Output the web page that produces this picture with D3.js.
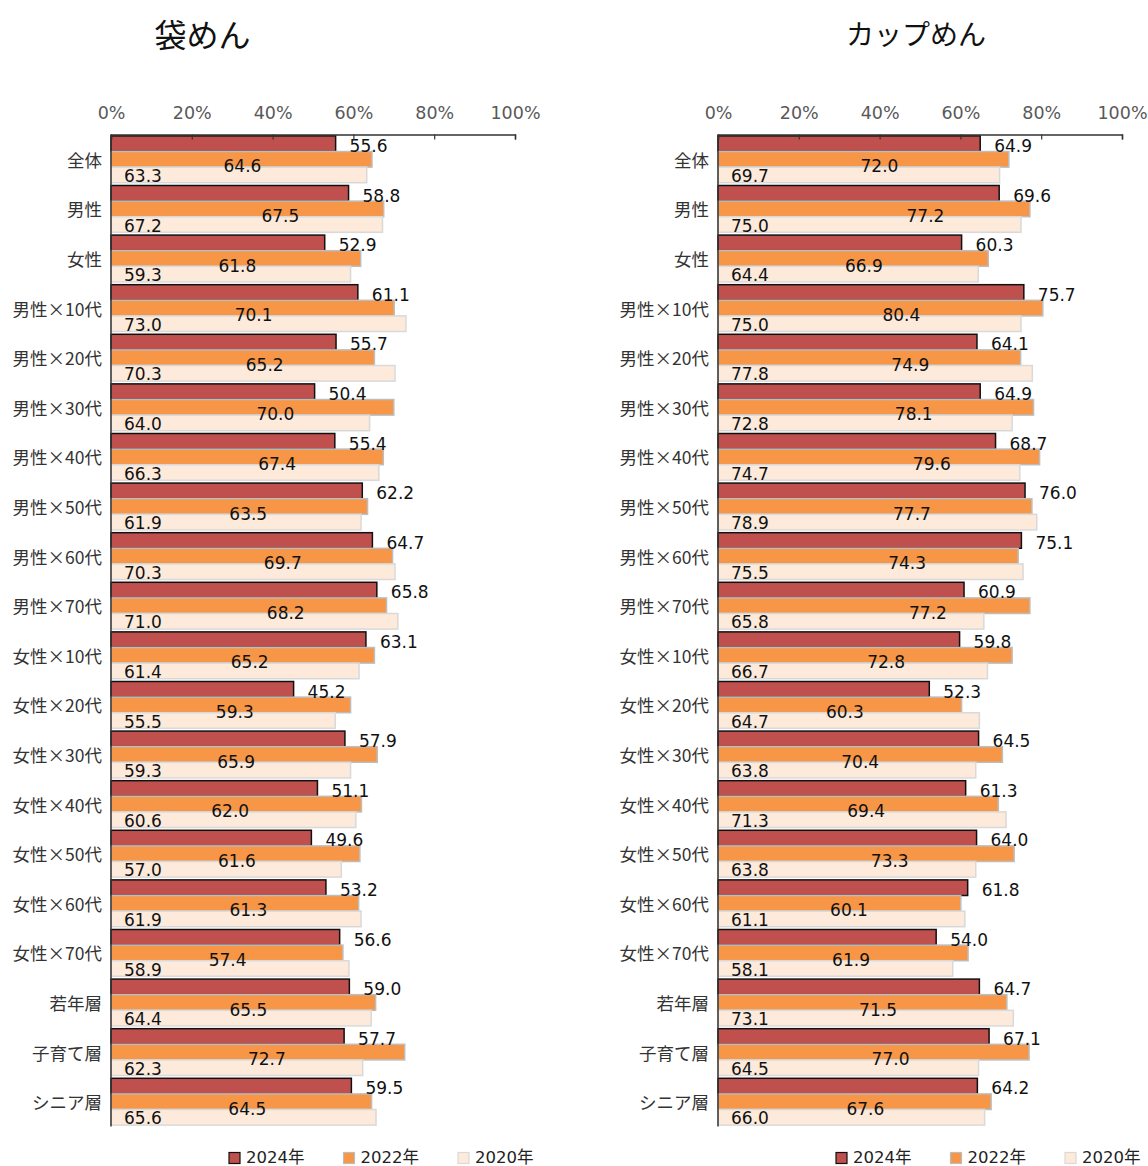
<!DOCTYPE html>
<html lang="ja">
<head>
<meta charset="utf-8">
<title>袋めん・カップめん</title>
<script src="https://cdn.jsdelivr.net/npm/d3@7"></script>
<style>
  body { margin: 0; background: #fff; }
  .cat { font-family: "Noto Sans CJK JP", sans-serif; font-size: 17.5px; fill: #333; }
  .tick text { font-family: "DejaVu Sans", sans-serif; font-size: 17.5px; fill: #595959; }
  .lbl { font-family: "DejaVu Sans", sans-serif; font-size: 17px; fill: #111; }
  .leg { font-family: "DejaVu Sans", "Noto Sans CJK JP", sans-serif; font-size: 16.5px; fill: #222; }
  .title { font-family: "Noto Sans CJK JP", sans-serif; fill: #111; }
</style>
</head>
<body>
<script>
const categories = ["全体", "男性", "女性",
  "男性×10代", "男性×20代", "男性×30代", "男性×40代", "男性×50代", "男性×60代", "男性×70代",
  "女性×10代", "女性×20代", "女性×30代", "女性×40代", "女性×50代", "女性×60代", "女性×70代",
  "若年層", "子育て層", "シニア層"];
const years = ["2024年", "2022年", "2020年"];
const ticks = [0, 20, 40, 60, 80, 100];

// 袋めん
const fukuro2024 = [55.6, 58.8, 52.9, 61.1, 55.7, 50.4, 55.4, 62.2, 64.7, 65.8, 63.1, 45.2, 57.9, 51.1, 49.6, 53.2, 56.6, 59.0, 57.7, 59.5];
const fukuro2022 = [64.6, 67.5, 61.8, 70.1, 65.2, 70.0, 67.4, 63.5, 69.7, 68.2, 65.2, 59.3, 65.9, 62.0, 61.6, 61.3, 57.4, 65.5, 72.7, 64.5];
const fukuro2020 = [63.3, 67.2, 59.3, 73.0, 70.3, 64.0, 66.3, 61.9, 70.3, 71.0, 61.4, 55.5, 59.3, 60.6, 57.0, 61.9, 58.9, 64.4, 62.3, 65.6];

// カップめん
const cup2024 = [64.9, 69.6, 60.3, 75.7, 64.1, 64.9, 68.7, 76.0, 75.1, 60.9, 59.8, 52.3, 64.5, 61.3, 64.0, 61.8, 54.0, 64.7, 67.1, 64.2];
const cup2022 = [72.0, 77.2, 66.9, 80.4, 74.9, 78.1, 79.6, 77.7, 74.3, 77.2, 72.8, 60.3, 70.4, 69.4, 73.3, 60.1, 61.9, 71.5, 77.0, 67.6];
const cup2020 = [69.7, 75.0, 64.4, 75.0, 77.8, 72.8, 74.7, 78.9, 75.5, 65.8, 66.7, 64.7, 63.8, 71.3, 63.8, 61.1, 58.1, 73.1, 64.5, 66.0];

// 2022 labels were dragged by hand in the original, px nudge from bar centre
const fukuroNudge = [1, 33, 1.5, 1, 22, 23, 30, 9, 31, 37, 7, 4, -8, -6, 1.5, 13.5, 0.7, 5, 9, 6];
const cupNudge = [16, 51.5, 10.7, 21, 41, 38, 53, 37, 39, 54, 21, 5, 0, 8, 23.7, 9.6, 8, 15.6, 17, 10.8];

const fills = ["#C0504D", "#F79646", "#FDEADA"];
const strokes = ["#111", "#BDBDBD", "#D9D9D9"];
// vertical nudge of data labels per series
const labelDy = [2.4, 7, 1];

const width = 1148, height = 1166;
const svg = d3.select("body").append("svg")
  .attr("width", width)
  .attr("height", height)
  .style("background", "#fff");

const panels = [
  { title: "袋めん", titleX: 202.5, titleSize: 32, left: 111, series: [fukuro2024, fukuro2022, fukuro2020], nudge: fukuroNudge, legendX: 229 },
  { title: "カップめん", titleX: 916, titleSize: 28, left: 718, series: [cup2024, cup2022, cup2020], nudge: cupNudge, legendX: 836 }
];

const plotTop = 134.5, plotBottom = 1126.5, plotW = 404;

const y = d3.scaleBand().domain(categories).range([plotTop, plotBottom])
  .paddingInner(0.056).paddingOuter(0.028);
const ySub = d3.scaleBand().domain(years).range([0, y.bandwidth()]);

panels.forEach(p => {
  const g = svg.append("g");
  const x = d3.scaleLinear().domain([0, 100]).range([p.left, p.left + plotW]);

  g.append("text").attr("class", "title")
    .attr("x", p.titleX).attr("y", 33)
    .style("font-size", p.titleSize + "px")
    .attr("text-anchor", "middle").attr("dominant-baseline", "central")
    .text(p.title);

  // bars
  years.forEach((yr, si) => {
    const vals = p.series[si];
    g.selectAll(null)
      .data(categories)
      .join("rect")
      .attr("x", x(0))
      .attr("y", (c) => y(c) + ySub(yr))
      .attr("width", (c, i) => x(vals[i]) - x(0))
      .attr("height", ySub.bandwidth())
      .attr("fill", fills[si])
      .attr("stroke", strokes[si])
      .attr("stroke-width", 1.5);
  });

  // data labels
  years.forEach((yr, si) => {
    const vals = p.series[si];
    g.selectAll(null)
      .data(categories)
      .join("text")
      .attr("class", "lbl")
      .attr("x", (c, i) => {
        if (si == 0) return x(vals[i]) + 14;
        if (si == 1) return (x(0) + x(vals[i])) / 2 + p.nudge[i];
        return x(0) + 13;
      })
      .attr("y", (c) => y(c) + ySub(yr) + ySub.bandwidth() / 2 + labelDy[si])
      .attr("text-anchor", si == 1 ? "middle" : "start")
      .attr("dominant-baseline", "central")
      .text((c, i) => vals[i].toFixed(1));
  });

  // category labels
  g.selectAll(null)
    .data(categories)
    .join("text")
    .attr("class", "cat")
    .attr("x", p.left - 9)
    .attr("y", (c) => y(c) + y.bandwidth() / 2)
    .attr("text-anchor", "end")
    .attr("dominant-baseline", "central")
    .text((c) => c);

  // top axis
  const ax = g.append("g")
    .attr("transform", `translate(0,${plotTop})`)
    .call(d3.axisTop(x).tickValues(ticks).tickFormat(d => d + "%")
      .tickSizeInner(-5).tickSizeOuter(-5));
  ax.select(".domain").attr("stroke", "#333").attr("stroke-width", 1.5);
  ax.selectAll(".tick line").attr("stroke", "#333").attr("stroke-width", 1.2);
  ax.selectAll(".tick text").attr("y", -22).attr("dy", "0.35em");

  // vertical axis line
  g.append("line")
    .attr("x1", x(0)).attr("x2", x(0))
    .attr("y1", plotTop).attr("y2", plotBottom)
    .attr("stroke", "#333").attr("stroke-width", 1.5);

  // legend
  const leg = g.append("g").attr("transform", `translate(${p.legendX},1157)`);
  years.forEach((yr, si) => {
    const lx = si * 114.5;
    leg.append("rect")
      .attr("x", lx).attr("y", -4.5)
      .attr("width", 11).attr("height", 11)
      .attr("fill", fills[si])
      .attr("stroke", strokes[si]).attr("stroke-width", 1.2);
    leg.append("text").attr("class", "leg")
      .attr("x", lx + 17).attr("y", 0)
      .attr("dominant-baseline", "central")
      .text(yr);
  });
});
</script>
</body>
</html>
